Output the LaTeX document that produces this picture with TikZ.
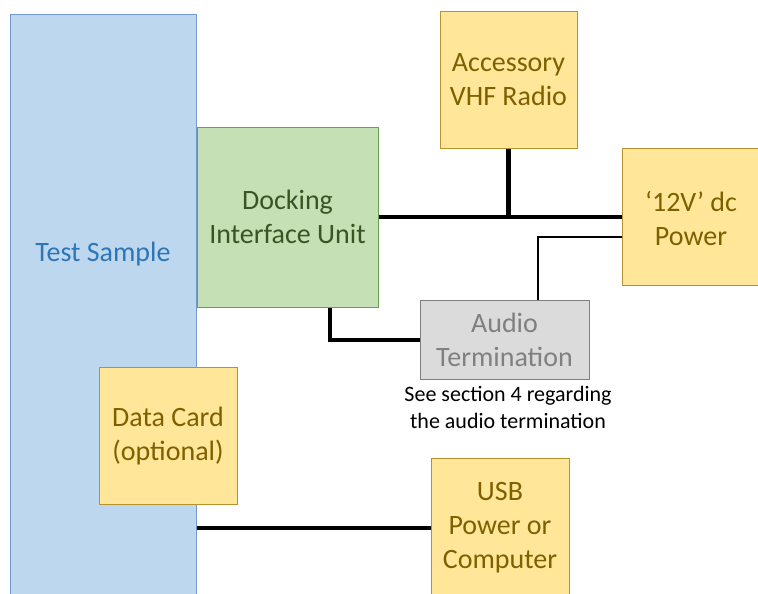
\documentclass[tikz,border=0pt]{standalone}
\usepackage{fontspec}
\setmainfont{Carlito}
\definecolor{tsfill}{HTML}{BDD7EE}
\definecolor{tsdraw}{HTML}{7399D0}
\definecolor{tstext}{HTML}{2E75B6}
\definecolor{gnfill}{HTML}{C5E0B4}
\definecolor{gndraw}{HTML}{6A9F4B}
\definecolor{gntext}{HTML}{375623}
\definecolor{ylfill}{HTML}{FFE699}
\definecolor{yldraw}{HTML}{B8922E}
\definecolor{yltext}{HTML}{7F6000}
\definecolor{gyfill}{HTML}{DBDBDB}
\definecolor{gydraw}{HTML}{7F7F7F}
\definecolor{gytext}{HTML}{808080}
\tikzset{
  box/.style={draw, line width=1pt, inner sep=0pt, align=center,
    font=\fontsize{28pt}{34pt}\selectfont},
  ylbox/.style={box, fill=ylfill, draw=yldraw, text=yltext},
  gnbox/.style={box, fill=gnfill, draw=gndraw, text=gntext},
  gybox/.style={box, fill=gyfill, draw=gydraw, text=gytext},
  tsbox/.style={draw=tsdraw, fill=tsfill, line width=1pt, inner sep=0pt},
  thickwire/.style={line width=4.5pt, black},
  thinwire/.style={line width=2pt, black},
}
\begin{document}
\begin{tikzpicture}[x=1pt, y=-1pt]
\useasboundingbox (0,0) rectangle (758,594);
\clip (0,0) rectangle (758,594);
\node[tsbox, minimum width=186pt, minimum height=620pt, anchor=north west] (ts) at (10,14) {};
\node[text=tstext, font=\fontsize{28pt}{34pt}\selectfont, inner sep=0pt] (tslabel) at (103,254) {Test Sample};
\node[gnbox, minimum width=181pt, minimum height=180pt] (diu) at (287.5,217) {Docking\\Interface Unit};
\node[ylbox, minimum width=137pt, minimum height=137pt] (vhf) at (508.5,80) {Accessory\\VHF Radio};
\node[ylbox, minimum width=150pt, minimum height=137pt, anchor=west] (pwr) at (622,216.5) {};
\node[text=yltext, align=center, inner sep=0pt, font=\fontsize{28pt}{34pt}\selectfont] (pwrlabel) at (691,218) {‘12V’ dc\\Power};
\node[gybox, minimum width=169pt, minimum height=79pt] (at) at (504.5,340) {Audio\\Termination};
\node[align=center, inner sep=0pt, font=\fontsize{22pt}{27pt}\selectfont] (note) at (508,407) {See section 4 regarding\\the audio termination};
\node[ylbox, minimum width=138pt, minimum height=137pt] (dc) at (168,436) {Data Card\\(optional)};
\node[ylbox, minimum width=138pt, minimum height=140pt] (usb) at (500,528) {USB\\Power or\\Computer};
\coordinate (c1) at (538,237);
\coordinate (c2) at (330,306);
\draw[thickwire] (diu.east) -- (diu.east -| pwr.west);
\draw[thickwire] (vhf.south) -- (vhf.south |- diu.east);
\draw[thinwire] (pwr.west |- c1) -- (c1) -- (c1 |- at.north);
\draw[thickwire] (c2 |- diu.south) |- (at.west);
\draw[thickwire] (usb.west -| ts.east) -- (usb.west);
\end{tikzpicture}
\end{document}
